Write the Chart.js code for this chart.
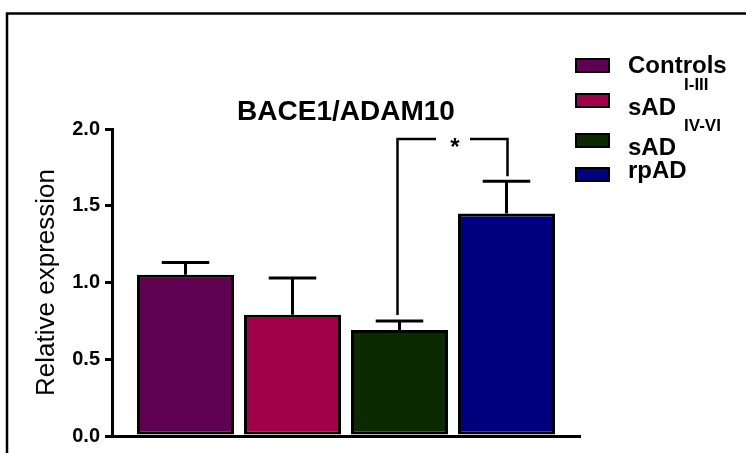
<!DOCTYPE html>
<html>
<head>
<meta charset="utf-8">
<title>BACE1/ADAM10</title>
<script src="https://cdn.jsdelivr.net/npm/chart.js@4.4.1/dist/chart.umd.min.js"></script>
<style>
  html, body { margin: 0; padding: 0; background: #fff; }
  #wrap { width: 746px; height: 453px; }
</style>
</head>
<body>
<div id="wrap"><canvas id="c" width="746" height="453"></canvas></div>
<script>
// Groups (name + Braak stage superscript)
const groupNames  = ['Controls', 'sAD', 'sAD', 'rpAD'];
const groupStages = ['', 'I-III', 'IV-VI', ''];
// Mean relative expression and SEM per group
const meanValues = [1.05, 0.79, 0.69, 1.45];
const semValues  = [0.08, 0.24, 0.06, 0.21];
const groupColors = ['#600050', '#A00048', '#0B2A00', '#00007F'];
// Y axis ticks
const yTicks = [0.0, 0.5, 1.0, 1.5, 2.0];
const chartTitle = 'BACE1/ADAM10';
const yTitle = 'Relative expression';
// Significance bracket: sAD IV-VI vs rpAD
const sigPairs = [{ from: 2, to: 3, level: 1.935, mark: '*' }];

const FONT = "'Liberation Sans', Arial, sans-serif";

const datasets = meanValues.map((v, i) => ({
  label: groupNames[i] + (groupStages[i] ? ' ' + groupStages[i] : ''),
  data: [v],
  backgroundColor: groupColors[i],
  borderColor: '#000',
  borderWidth: 3,
  borderSkipped: false,
  categoryPercentage: 0.9145,
  barPercentage: 0.9065
}));

// White page with the figure frame (top and left rules)
const framePlugin = {
  id: 'frame',
  beforeDraw(chart) {
    const ctx = chart.ctx;
    ctx.save();
    ctx.fillStyle = '#fff';
    ctx.fillRect(0, 0, chart.width, chart.height);
    ctx.strokeStyle = '#000';
    ctx.lineWidth = 2.5;
    ctx.beginPath();
    ctx.moveTo(7, chart.height);
    ctx.lineTo(7, 13.5);
    ctx.lineTo(chart.width, 13.5);
    ctx.stroke();
    ctx.restore();
  }
};

// Upper SEM whiskers and the significance bracket
const errorPlugin = {
  id: 'errorBars',
  afterDatasetsDraw(chart) {
    const ctx = chart.ctx;
    const y = chart.scales.y;
    ctx.save();
    ctx.strokeStyle = '#000';
    ctx.lineWidth = 3;
    ctx.lineCap = 'butt';
    meanValues.forEach((m, i) => {
      const bar = chart.getDatasetMeta(i).data[0];
      const top = y.getPixelForValue(m + semValues[i]);
      const half = bar.width * 0.245;
      ctx.beginPath();
      ctx.moveTo(bar.x, bar.y);
      ctx.lineTo(bar.x, top);
      ctx.moveTo(bar.x - half, top);
      ctx.lineTo(bar.x + half, top);
      ctx.stroke();
    });

    ctx.lineWidth = 2.5;
    sigPairs.forEach(p => {
      const a = chart.getDatasetMeta(p.from).data[0];
      const b = chart.getDatasetMeta(p.to).data[0];
      const yl = y.getPixelForValue(p.level);
      const ya = y.getPixelForValue(meanValues[p.from] + semValues[p.from]) - 6;
      const yb = y.getPixelForValue(meanValues[p.to] + semValues[p.to]) - 5;
      const mid = (a.x + b.x) / 2;
      const gap = 17;
      ctx.beginPath();
      ctx.moveTo(a.x - 2, ya);
      ctx.lineTo(a.x - 2, yl);
      ctx.lineTo(mid - gap, yl);
      ctx.moveTo(mid + gap, yl);
      ctx.lineTo(b.x + 1, yl);
      ctx.lineTo(b.x + 1, yb);
      ctx.stroke();
      ctx.fillStyle = '#000';
      ctx.font = 'bold 24px ' + FONT;
      ctx.textAlign = 'center';
      ctx.textBaseline = 'alphabetic';
      ctx.fillText(p.mark, mid + 2, yl + 16);
    });
    ctx.restore();
  }
};

// Legend on the right with stage superscripts
const legendPlugin = {
  id: 'stageLegend',
  afterDraw(chart) {
    const ctx = chart.ctx;
    const left = chart.chartArea.right - 5;
    const rows = [
      { box: 58,  base: 73 },
      { box: 93,  base: 115, sup: 90 },
      { box: 133, base: 155, sup: 131 },
      { box: 167, base: 178 }
    ];
    ctx.save();
    ctx.textAlign = 'left';
    ctx.textBaseline = 'alphabetic';
    groupNames.forEach((name, i) => {
      const r = rows[i];
      ctx.fillStyle = groupColors[i];
      ctx.fillRect(left, r.box, 35, 15);
      ctx.strokeStyle = '#000';
      ctx.lineWidth = 2;
      ctx.strokeRect(left + 1, r.box + 1, 33, 13);
      ctx.fillStyle = '#000';
      ctx.font = 'bold 24px ' + FONT;
      const tx = left + 53;
      ctx.fillText(name, tx, r.base);
      if (groupStages[i]) {
        const w = ctx.measureText(name).width;
        ctx.font = 'bold 17px ' + FONT;
        ctx.fillText(groupStages[i], tx + w + 8, r.sup);
      }
    });
    ctx.restore();
  }
};

new Chart(document.getElementById('c'), {
  type: 'bar',
  data: { labels: [''], datasets },
  options: {
    responsive: false,
    animation: false,
    devicePixelRatio: 1,
    layout: { padding: { top: 0, left: 0, right: 166, bottom: 0 } },
    plugins: {
      legend: { display: false },
      tooltip: { enabled: false },
      title: {
        display: true,
        text: chartTitle,
        fullSize: false,
        color: '#000',
        font: { family: FONT, size: 28, weight: 'bold' },
        padding: { top: 95.4, bottom: 0 }
      }
    },
    scales: {
      x: {
        type: 'category',
        offset: true,
        grid: { display: false },
        border: { display: true, color: '#000', width: 3 },
        ticks: { display: false },
        afterFit: s => { s.height = 12; }
      },
      y: {
        min: 0,
        max: 2,
        afterBuildTicks: s => { s.ticks = yTicks.map(v => ({ value: v })); },
        ticks: {
          callback: v => Number(v).toFixed(1),
          color: '#000',
          font: { family: FONT, size: 20, weight: 'bold' },
          padding: 5
        },
        grid: { drawOnChartArea: false, drawTicks: true, tickLength: 7, lineWidth: 3, color: '#000' },
        border: { display: true, color: '#000', width: 3 },
        title: {
          display: true,
          text: yTitle,
          color: '#000',
          font: { family: FONT, size: 26 },
          padding: { top: 31, bottom: 0 }
        },
        afterFit: s => { s.width = 112; }
      }
    }
  },
  plugins: [framePlugin, errorPlugin, legendPlugin]
});
</script>
</body>
</html>
